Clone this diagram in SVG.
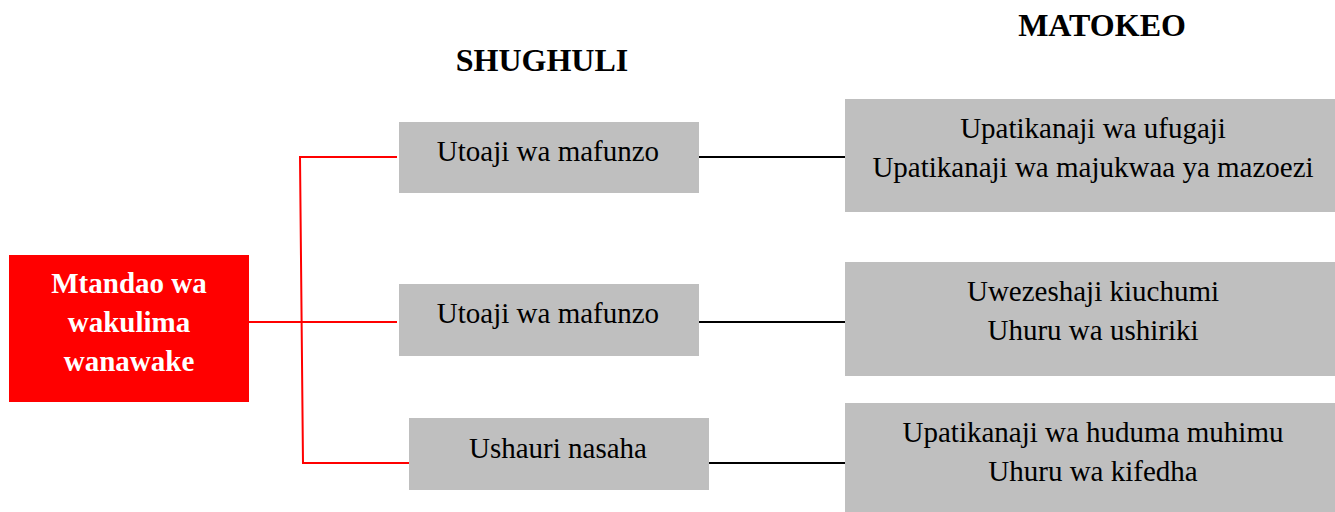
<svg xmlns="http://www.w3.org/2000/svg" width="1335" height="512" viewBox="0 0 1335 512">
<style>
.box{fill:#bfbfbf}
.t{font-family:"Liberation Serif","Times New Roman",serif;font-size:29px;fill:#000;text-anchor:middle}
.h{font-family:"Liberation Serif","Times New Roman",serif;font-size:32px;font-weight:bold;fill:#000;text-anchor:middle}
.w{font-family:"Liberation Serif","Times New Roman",serif;font-size:29px;font-weight:bold;fill:#fff;text-anchor:middle}
.red{stroke:#ff0000;stroke-width:2;fill:none}
.blk{stroke:#000;stroke-width:2;fill:none}
</style>
<rect width="1335" height="512" fill="#fff"/>
<text class="h" x="542" y="71">SHUGHULI</text>
<text class="h" x="1102" y="36">MATOKEO</text>
<g id="connectors">
<polyline class="red" points="249,322 397,322"/>
<polyline class="red" points="397,157 300,157 303,463 409,463"/>
<line class="blk" x1="696" y1="157" x2="846" y2="157"/>
<line class="blk" x1="699" y1="322" x2="846" y2="322"/>
<line class="blk" x1="709" y1="463" x2="846" y2="463"/>
</g>
<g id="root">
<rect x="9" y="255" width="240" height="147" fill="#ff0000"/>
<text class="w" x="129" y="293">Mtandao wa</text>
<text class="w" x="129" y="332">wakulima</text>
<text class="w" x="129" y="371">wanawake</text>
</g>
<g id="act1">
<rect class="box" x="399" y="122" width="300" height="71"/>
<text class="t" x="548" y="161">Utoaji wa mafunzo</text>
</g>
<g id="act2">
<rect class="box" x="399" y="284" width="300" height="72"/>
<text class="t" x="548" y="323">Utoaji wa mafunzo</text>
</g>
<g id="act3">
<rect class="box" x="409" y="418" width="300" height="72"/>
<text class="t" x="558" y="458">Ushauri nasaha</text>
</g>
<g id="out1">
<rect class="box" x="845" y="99" width="490" height="113"/>
<text class="t" x="1093" y="138">Upatikanaji wa ufugaji</text>
<text class="t" x="1093" y="177">Upatikanaji wa majukwaa ya mazoezi</text>
</g>
<g id="out2">
<rect class="box" x="845" y="262" width="490" height="114"/>
<text class="t" x="1093" y="301">Uwezeshaji kiuchumi</text>
<text class="t" x="1093" y="340">Uhuru wa ushiriki</text>
</g>
<g id="out3">
<rect class="box" x="845" y="403" width="490" height="109"/>
<text class="t" x="1093" y="442">Upatikanaji wa huduma muhimu</text>
<text class="t" x="1093" y="481">Uhuru wa kifedha</text>
</g>
</svg>
